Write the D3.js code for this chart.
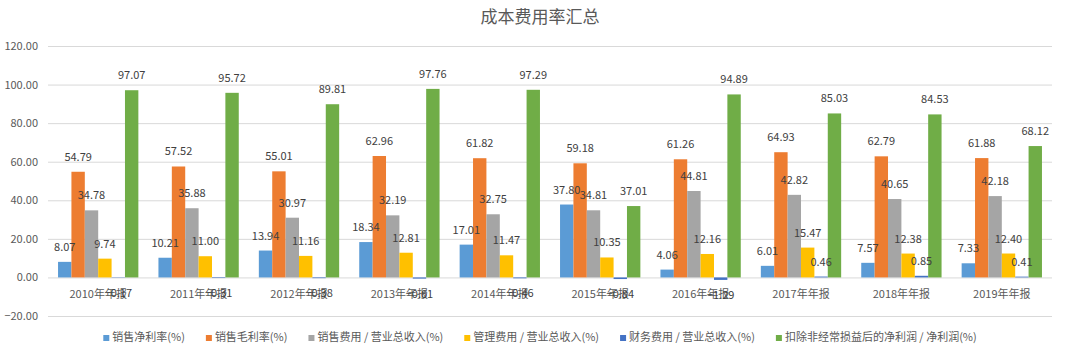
<!DOCTYPE html>
<html>
<head>
<meta charset="utf-8">
<script src="https://cdn.jsdelivr.net/npm/d3@7"></script>
<style>
  body { margin: 0; background: #fff; }
  svg { display: block; font-family: "Noto Sans CJK SC", "Noto Sans", sans-serif; }
</style>
</head>
<body>
<svg id="chart"></svg>
<script>
// categories and series
const years = ['2010年年报', '2011年年报', '2012年年报', '2013年年报', '2014年年报',
  '2015年年报', '2016年年报', '2017年年报', '2018年年报', '2019年年报'];

const seriesNames = ['销售净利率(%)', '销售毛利率(%)', '销售费用 / 营业总收入(%)',
  '管理费用 / 营业总收入(%)', '财务费用 / 营业总收入(%)', '扣除非经常损益后的净利润 / 净利润(%)'];

const netMargin = [8.07, 10.21, 13.94, 18.34, 17.01, 37.80, 4.06, 6.01, 7.57, 7.33];
const grossMargin = [54.79, 57.52, 55.01, 62.96, 61.82, 59.18, 61.26, 64.93, 62.79, 61.88];
const salesExp = [34.78, 35.88, 30.97, 32.19, 32.75, 34.81, 44.81, 42.82, 40.65, 42.18];
const adminExp = [9.74, 11.00, 11.16, 12.81, 11.47, 10.35, 12.16, 15.47, 12.38, 12.40];
const financeExp = [-0.17, -0.31, -0.38, -0.61, -0.46, -0.84, -1.29, 0.46, 0.85, 0.41];
const deductedProfit = [97.07, 95.72, 89.81, 97.76, 97.29, 37.01, 94.89, 85.03, 84.53, 68.12];

const yTicks = [-20, 0, 20, 40, 60, 80, 100, 120];

const colors = ['#5B9BD5', '#ED7D31', '#A5A5A5', '#FFC000', '#4472C4', '#70AD47'];

const allSeries = [netMargin, grossMargin, salesExp, adminExp, financeExp, deductedProfit];

const W = 1080, H = 352;
const margin = {top: 46, right: 28, bottom: 36, left: 48};
const width = W - margin.left - margin.right;
const height = H - margin.top - margin.bottom;

const svg = d3.select('#chart').attr('width', W).attr('height', H);

// title
svg.append('text')
  .attr('x', W / 2).attr('y', 23)
  .attr('text-anchor', 'middle')
  .attr('font-size', 17)
  .attr('fill', '#595959')
  .text('成本费用率汇总');

const chart = svg.append('g').attr('transform', `translate(${margin.left},${margin.top})`);

const x = d3.scaleBand().domain(years).range([0, width]);
const xInner = d3.scaleBand().domain(d3.range(seriesNames.length))
  .range([x.bandwidth() * 0.1, x.bandwidth() * 0.9]);
const y = d3.scaleLinear().domain([-20, 120]).range([height, 0]);

// gridlines + y labels
const yAxis = d3.axisLeft(y).tickValues(yTicks).tickSize(-width).tickPadding(10)
  .tickFormat(d3.format('.2f'));
const yg = chart.append('g').call(yAxis);
yg.select('.domain').remove();
yg.selectAll('.tick line').attr('stroke', '#D9D9D9').attr('stroke-width', 1);
yg.selectAll('.tick text').attr('fill', '#595959').attr('font-size', 11)
  .attr('font-family', '"Noto Sans CJK SC", sans-serif');

// bars
const rows = [];
allSeries.forEach((vals, si) => {
  vals.forEach((v, i) => rows.push({s: si, cat: years[i], v: v}));
});

chart.selectAll('rect.bar')
  .data(rows)
  .join('rect')
  .attr('class', 'bar')
  .attr('x', d => x(d.cat) + xInner(d.s))
  .attr('width', xInner.bandwidth())
  .attr('y', d => y(Math.max(0, d.v)))
  .attr('height', d => Math.abs(y(d.v) - y(0)))
  .attr('fill', d => colors[d.s]);

// category labels
chart.selectAll('text.cat')
  .data(years)
  .join('text')
  .attr('class', 'cat')
  .attr('x', d => x(d) + x.bandwidth() / 2)
  .attr('y', y(0) + 21)
  .attr('text-anchor', 'middle')
  .attr('font-size', 11)
  .attr('fill', '#595959')
  .text(d => d);

// data labels (negative ones sit under the bar, over the category text, as in the original)
chart.selectAll('text.lbl')
  .data(rows)
  .join('text')
  .attr('class', 'lbl')
  .attr('x', d => x(d.cat) + xInner(d.s) + xInner.bandwidth() / 2)
  .attr('y', d => d.v >= 0 ? y(d.v) - 11 : y(d.v) + 19)
  .attr('text-anchor', 'middle')
  .attr('font-size', 11)
  .attr('fill', '#404040')
  .text(d => d3.format('.2f')(d.v));

// legend
const legend = svg.append('g').attr('transform', `translate(0, ${H - 11})`);
const items = legend.selectAll('g')
  .data(seriesNames)
  .join('g');
items.append('rect')
  .attr('width', 6).attr('height', 6)
  .attr('y', -6)
  .attr('fill', (d, i) => colors[i]);
items.append('text')
  .attr('x', 9)
  .attr('font-size', 11)
  .attr('fill', '#595959')
  .text(d => d);

const gap = 21;
let widths = [];
items.each(function () {
  widths.push(9 + d3.select(this).select('text').node().getComputedTextLength());
});
const total = d3.sum(widths) + gap * (widths.length - 1);
let cx = (W - total) / 2;
items.attr('transform', (d, i) => {
  const t = `translate(${cx},0)`;
  cx += widths[i] + gap;
  return t;
});
</script>
</body>
</html>
